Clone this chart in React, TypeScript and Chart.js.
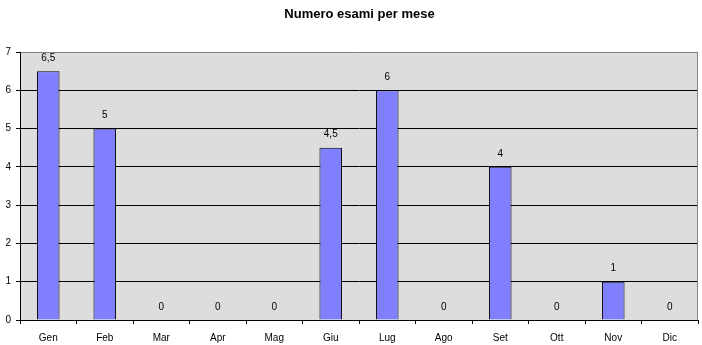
import React, { useEffect, useRef } from "react";
import { Chart, registerables } from "chart.js";

Chart.register(...registerables);

const TITLE = "Numero esami per mese";
const categories = ["Gen", "Feb", "Mar", "Apr", "Mag", "Giu", "Lug", "Ago", "Set", "Ott", "Nov", "Dic"];
const esami = [6.5, 5, 0, 0, 0, 4.5, 6, 0, 4, 0, 1, 0];
const yMin = 0;
const yMax = 7;

const FONT = "'Liberation Sans', Arial, sans-serif";

const decorPlugin = {
  id: "decor",
  beforeDraw(chart: any) {
    const { ctx, chartArea } = chart;
    ctx.save();
    ctx.fillStyle = "#DDDDDD";
    ctx.fillRect(chartArea.left, chartArea.top, chartArea.right - chartArea.left, chartArea.bottom - chartArea.top);
    ctx.restore();
  },
  afterDraw(chart: any) {
    const { ctx, chartArea } = chart;
    ctx.save();
    ctx.strokeStyle = "#808080";
    ctx.lineWidth = 1;
    ctx.beginPath();
    const x = Math.round(chartArea.right) - 0.5;
    ctx.moveTo(x, chartArea.top);
    ctx.lineTo(x, chartArea.bottom);
    ctx.stroke();
    ctx.fillStyle = "#000";
    ctx.font = `bold 13px ${FONT}`;
    ctx.textAlign = "center";
    ctx.textBaseline = "middle";
    ctx.fillText(TITLE, (chartArea.left + chartArea.right) / 2 + 0.5, 14);
    const meta = chart.getDatasetMeta(0);
    ctx.font = `10px ${FONT}`;
    meta.data.forEach((bar: any, i: number) => {
      const label = String(esami[i]).replace(".", ",");
      ctx.fillText(label, bar.x, bar.y - 13);
    });
    ctx.restore();
  },
};

export default function App() {
  const ref = useRef<HTMLCanvasElement>(null);
  useEffect(() => {
    if (!ref.current) return;
    const chart = new Chart(ref.current, {
      type: "bar",
      data: {
        labels: categories,
        datasets: [
          {
            data: esami,
            backgroundColor: "#8080FF",
            borderColor: "#000000",
            borderWidth: 1,
            barPercentage: 0.4,
            categoryPercentage: 1,
          },
        ],
      },
      options: {
        animation: false,
        responsive: false,
        devicePixelRatio: 1,
        layout: { padding: { top: 52, right: 4, left: 0, bottom: 0 } },
        plugins: {
          legend: { display: false },
          title: { display: false },
          tooltip: { enabled: false },
        },
        scales: {
          x: {
            offset: true,
            grid: {
              offset: true,
              drawOnChartArea: false,
              drawTicks: true,
              tickLength: 4,
              tickColor: "#000",
            },
            border: { color: "#000", width: 1 },
            ticks: {
              color: "#000",
              font: { family: FONT, size: 10 },
              padding: 8,
              maxRotation: 0,
              autoSkip: false,
            },
            afterFit(scale: any) {
              scale.height = 25;
            },
          },
          y: {
            min: yMin,
            max: yMax,
            grid: {
              color: (c: any) => (c.tick && c.tick.value === yMax ? "#808080" : "#000000"),
              tickColor: "#000",
              tickLength: 4,
              drawTicks: true,
            },
            border: { color: "#000", width: 1 },
            ticks: {
              stepSize: 1,
              color: "#000",
              font: { family: FONT, size: 10 },
              padding: 5,
            },
            afterFit(scale: any) {
              scale.width = 20;
            },
          },
        },
      },
      plugins: [decorPlugin],
    });
    return () => chart.destroy();
  }, []);
  return (
    <div style={{ position: "absolute", left: 0, top: 0, width: 702, height: 345, background: "#fff" }}>
      <canvas ref={ref} width={702} height={345} style={{ display: "block" }} />
    </div>
  );
}
